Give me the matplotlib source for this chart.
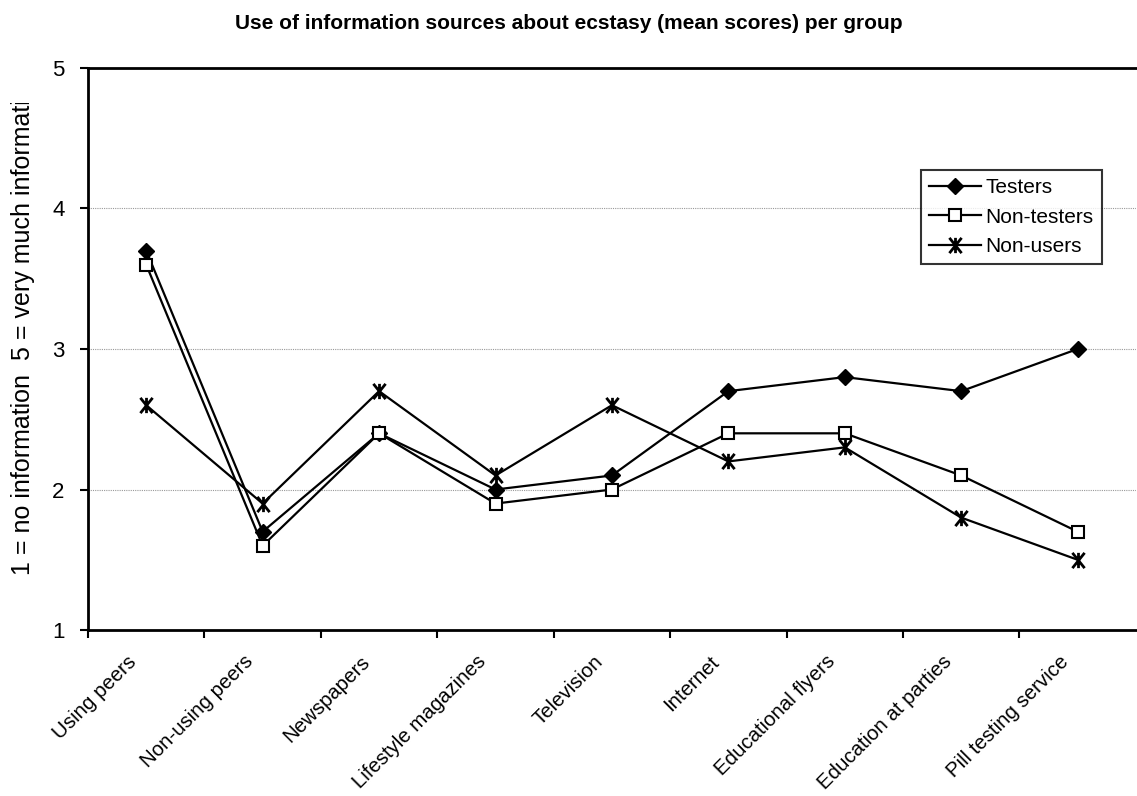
import matplotlib.pyplot as plt
from matplotlib.path import Path
from matplotlib.transforms import Bbox, TransformedBbox

plt.rcParams['font.family'] = ['Liberation Sans', 'DejaVu Sans']

# information sources (x categories)
sources = ['Using peers', 'Non-using peers', 'Newspapers', 'Lifestyle magazines',
           'Television', 'Internet', 'Educational flyers', 'Education at parties',
           'Pill testing service']

# mean scores per group
testers = [3.7, 1.7, 2.4, 2.0, 2.1, 2.7, 2.8, 2.7, 3.0]
non_testers = [3.6, 1.6, 2.4, 1.9, 2.0, 2.4, 2.4, 2.1, 1.7]
non_users = [2.6, 1.9, 2.7, 2.1, 2.6, 2.2, 2.3, 1.8, 1.5]

# asterisk marker: an X crossed by a vertical stroke
star = Path([(-0.8, -1), (0.8, 1), (-0.8, 1), (0.8, -1), (0, -1), (0, 1)],
            [Path.MOVETO, Path.LINETO, Path.MOVETO, Path.LINETO,
             Path.MOVETO, Path.LINETO])

fig = plt.figure(figsize=(11.37, 7.96), dpi=100)
ax = fig.add_axes([0.0774, 0.2085, 0.9216, 0.7061])

x = list(range(len(sources)))
ax.plot(x, testers, color='black', lw=1.6, marker='D', ms=8.5,
        mfc='black', mec='black', label='Testers', zorder=3)
ax.plot(x, non_testers, color='black', lw=1.6, marker='s', ms=9,
        mfc='white', mec='black', mew=1.5, label='Non-testers', zorder=3)
ax.plot(x, non_users, color='black', lw=1.6, marker=star, ms=11,
        mec='black', mew=2, label='Non-users', zorder=3)

ax.set_xlim(-0.5, len(sources) - 0.5)
ax.set_ylim(1, 5)
ax.set_yticks([1, 2, 3, 4, 5])
ax.yaxis.grid(True, color='#999999', lw=0.8, ls=(0, (1, 1)))
ax.set_axisbelow(True)

# ticks sit between categories, labels under each category
ax.set_xticks([i - 0.5 for i in x])
ax.set_xticklabels([])
ax.tick_params(axis='x', length=6, width=1.5, direction='out')
ax.tick_params(axis='y', length=6, width=1.5, direction='out', labelsize=16, pad=11)
for i, name in zip(x, sources):
    ax.annotate(name, xy=(i, 0), xycoords=('data', 'axes fraction'),
                xytext=(-19, -22), textcoords='offset pixels',
                rotation=45, rotation_mode='anchor', ha='right', va='top',
                fontsize=14.7, annotation_clip=False)

for side in ['left', 'bottom', 'top']:
    ax.spines[side].set_linewidth(2)
ax.spines['right'].set_visible(False)

fig.text(0.5, 0.970,
         'Use of information sources about ecstasy (mean scores) per group',
         ha='center', va='center', fontsize=15, fontweight='bold')

leg = ax.legend(loc='upper right', bbox_to_anchor=(0.9676, 0.8185),
                borderaxespad=0, fontsize=15, frameon=True, fancybox=False,
                handlelength=2.5, handletextpad=0.2, labelspacing=0.5,
                borderpad=0.4)
leg.get_frame().set_edgecolor('black')
leg.get_frame().set_linewidth(1.5)

# y label, cut off near the top
ylab = fig.text(0.020, 0.2776,
                '1 = no information  5 = very much information',
                rotation=90, ha='center', va='bottom', fontsize=18)
ylab.set_clip_box(TransformedBbox(Bbox([[0, 0], [1, 0.8706]]), fig.transFigure))
ylab.set_clip_on(True)

fig.savefig('out.png', dpi=100)
